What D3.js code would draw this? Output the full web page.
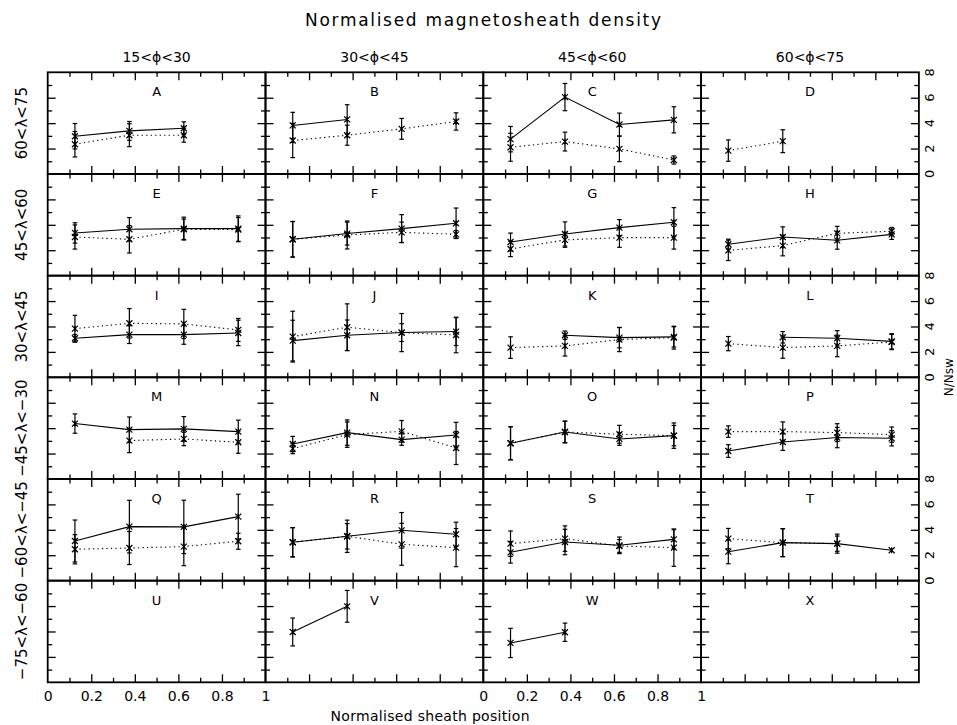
<!DOCTYPE html>
<html><head><meta charset="utf-8">
<script src="https://cdn.jsdelivr.net/npm/d3@7"></script>
<style>body{margin:0;background:#fff}svg text{font-family:"DejaVu Sans",sans-serif;fill:#000}</style>
</head><body><svg id="chart" width="957" height="725"></svg>
<script>
const panelLetters = ["A","B","C","D","E","F","G","H","I","J","K","L","M","N","O","P","Q","R","S","T","U","V","W","X"];
const rowLabels = ["60<λ<75","45<λ<60","30<λ<45","−45<λ<−30","−60<λ<−45","−75<λ<−60"];
const colLabels = ["15<ϕ<30","30<ϕ<45","45<ϕ<60","60<ϕ<75"];
const xPositions = [0.125,0.375,0.625,0.875];
const xTickLabels = [0,0.2,0.4,0.6,0.8,1];
const yTickLabels = [0,2,4,6,8];
const xMinorTicks = [0.1,0.3,0.5,0.7,0.9];
const xMajorTicks = [0.2,0.4,0.6,0.8];
const yMinorTicks = [1,3,5,7];
const yMajorTicks = [2,4,6];
const N = null;
const solidValues = [
 [2.97,3.39,3.6,N],[3.82,4.29,N,N],[2.74,6.05,3.89,4.26],[N,N,N,N],
 [3.36,3.65,3.7,3.7],[2.86,3.31,3.7,4.12],[2.65,3.28,3.78,4.2],[2.47,3.04,2.78,3.25],
 [3.07,3.36,3.36,3.49],[2.89,3.31,3.52,3.6],[N,3.31,3.12,3.18],[N,3.15,3.07,2.83],
 [4.36,3.88,3.94,3.73],[2.75,3.65,3.1,3.46],[2.81,3.7,3.15,3.41],[2.2,2.91,3.26,3.2],
 [3.12,4.25,4.23,5.04],[3.02,3.49,3.96,3.65],[2.23,3.04,2.78,3.25],[2.28,2.99,2.91,2.39],
 [N,N,N,N],[3.96,5.98,N,N],[3.1,3.94,N,N],[N,N,N,N]
];
const solidErrors = [
 [1.0,0.74,0.5,N],[1.03,1.16,N,N],[1.0,1.07,0.9,1.03],[N,N,N,N],
 [0.8,0.92,0.9,1.0],[1.4,0.9,1.1,1.2],[0.7,0.95,0.63,1.15],[0.4,0.8,0.7,0.4],
 [0.3,0.7,0.76,1.0],[1.6,1.2,0.7,1.1],[N,0.33,0.8,0.8],[N,0.45,0.6,0.6],
 [0.76,1.0,0.97,0.9],[0.6,1.0,0.45,1.0],[1.3,0.85,0.5,1.0],[0.5,0.66,0.8,0.6],
 [1.65,2.07,2.1,1.76],[1.15,1.27,1.4,0.95],[0.85,1.0,0.65,0.76],[0.95,1.1,0.75,0.05],
 [N,N,N,N],[1.1,1.25,N,N],[1.15,0.72,N,N],[N,N,N,N]
];
const dottedValues = [
 [2.34,3.05,3.05,N],[2.63,3.05,3.55,4.13],[2.1,2.55,1.97,1.1],[1.84,2.58,N,N],
 [3.04,2.86,3.65,3.62],[2.86,3.2,3.41,3.25],[2.1,2.81,2.99,2.99],[1.99,2.36,3.33,3.49],
 [3.83,4.25,4.2,3.73],[3.2,3.94,3.52,3.33],[2.34,2.47,2.97,3.12],[2.65,2.34,2.47,2.78],
 [N,3.02,3.15,2.89],[2.39,3.49,3.75,2.44],[2.81,3.7,3.52,3.41],[3.73,3.73,3.65,3.49],
 [2.47,2.57,2.68,3.1],[3.02,3.49,2.86,2.6],[2.91,3.31,2.73,2.6],[3.31,2.99,2.91,N],
 [N,N,N,N],[N,N,N,N],[N,N,N,N],[N,N,N,N]
];
const dottedErrors = [
 [1.0,0.9,0.55,N],[1.34,0.79,0.82,0.68],[1.1,0.74,1.0,0.32],[0.84,0.9,N,N],
 [0.95,1.08,0.8,0.95],[1.4,1.1,0.8,0.3],[0.6,0.58,0.76,0.9],[0.8,0.8,0.55,0.3],
 [1.05,1.16,1.15,0.9],[2.0,1.84,1.5,1.4],[0.85,0.8,0.95,0.9],[0.56,0.84,0.85,0.6],
 [N,0.95,0.53,0.87],[0.4,1.0,0.85,1.3],[1.3,0.85,0.7,0.8],[0.45,0.76,0.7,0.6],
 [1.15,1.3,1.5,0.63],[1.15,1.0,1.65,1.5],[1.0,1.0,0.5,1.47],[0.8,1.1,0.6,N],
 [N,N,N,N],[N,N,N,N],[N,N,N,N],[N,N,N,N]
];

const svg = d3.select("#chart");
const L = 47.7, T = 72.3, PW = 217.8, PH = 101.67;
const x = d3.scaleLinear().domain([0,1]).range([0,PW]);
const y = d3.scaleLinear().domain([0,8]).range([PH,0]);
const MAJ = 8, MIN = 4.5;

function tickAxis(g, axisFn, scale, vals, len, tx, ty){
  const a = axisFn(scale).tickValues(vals).tickSize(-len).tickFormat("");
  const ag = g.append("g").attr("transform",`translate(${tx},${ty})`).call(a);
  ag.select(".domain").remove();
  ag.selectAll("line").attr("stroke","#000").attr("stroke-width",1.3);
}

const star = s => `M${-s},${-s}L${s},${s}M${-s},${s}L${s},${-s}M0,${-s}L0,${s}`;

function drawSeries(g, vals, errs, dashed){
  const pts = xPositions.map((xv,i)=>({x:xv,v:vals[i],e:errs[i]})).filter(d=>d.v!==null);
  const line = d3.line().x(d=>x(d.x)).y(d=>y(d.v));
  g.append("path").datum(pts).attr("d",line).attr("fill","none")
    .attr("stroke","#000").attr("stroke-width",1.1)
    .attr("stroke-dasharray",dashed?"1.3,3.2":null);
  const eb = g.append("g").attr("stroke","#000").attr("stroke-width",1.2).attr("fill","none");
  pts.forEach(d=>{
    const cx = x(d.x);
    if(d.e && d.e>0.08){
      eb.append("line").attr("x1",cx).attr("x2",cx).attr("y1",y(d.v-d.e)).attr("y2",y(d.v+d.e));
      [d.v-d.e,d.v+d.e].forEach(v=>eb.append("line").attr("x1",cx-2.3).attr("x2",cx+2.3).attr("y1",y(v)).attr("y2",y(v)));
    }
    eb.append("path").attr("d",star(3)).attr("transform",`translate(${cx},${y(d.v)})`);
  });
}

for(let r=0;r<6;r++){
  for(let c=0;c<4;c++){
    const idx = r*4+c;
    const px = L + c*PW, py = T + r*PH;
    const g = svg.append("g").attr("transform",`translate(${px},${py})`);
    tickAxis(g, d3.axisBottom, x, xMinorTicks, MIN, 0, PH);
    tickAxis(g, d3.axisBottom, x, xMajorTicks, MAJ, 0, PH);
    tickAxis(g, d3.axisTop, x, xMinorTicks, MIN, 0, 0);
    tickAxis(g, d3.axisTop, x, xMajorTicks, MAJ, 0, 0);
    tickAxis(g, d3.axisLeft, y, yMinorTicks, MIN, 0, 0);
    tickAxis(g, d3.axisLeft, y, yMajorTicks, MAJ, 0, 0);
    tickAxis(g, d3.axisRight, y, yMinorTicks, MIN, PW, 0);
    tickAxis(g, d3.axisRight, y, yMajorTicks, MAJ, PW, 0);
    g.append("rect").attr("width",PW).attr("height",PH).attr("fill","none")
      .attr("stroke","#000").attr("stroke-width",1.8);
    g.append("text").attr("x",x(0.5)).attr("y",24).attr("text-anchor","middle")
      .attr("font-size",13).text(panelLetters[idx]);
    drawSeries(g, dottedValues[idx], dottedErrors[idx], true);
    drawSeries(g, solidValues[idx], solidErrors[idx], false);
    if(r===5 && (c===0 || c===2)){
      const a = d3.axisBottom(x).tickValues(xTickLabels).tickSize(0).tickPadding(9).tickFormat(d=>String(d));
      const ag = g.append("g").attr("transform",`translate(0,${PH})`).call(a);
      ag.select(".domain").remove();
      ag.selectAll("text").attr("font-size",14).attr("font-family","DejaVu Sans").attr("fill","#000");
    }
    if(c===3 && r%2===0){
      yTickLabels.forEach(v=>{
        g.append("text").attr("transform",`translate(${PW+15},${y(v)}) rotate(-90)`)
          .attr("text-anchor","middle").attr("font-size",13).text(v);
      });
    }
  }
}
colLabels.forEach((t,c)=>{
  svg.append("text").attr("x",L+c*PW+PW/2).attr("y",62).attr("text-anchor","middle")
    .attr("font-size",14).text(t);
});
rowLabels.forEach((t,r)=>{
  svg.append("text").attr("transform",`translate(27,${T+r*PH+PH/2}) rotate(-90)`)
    .attr("text-anchor","middle").attr("font-size",15).text(t);
});
svg.append("text").attr("x",483).attr("y",26).attr("text-anchor","middle")
  .attr("font-size",17).attr("textLength",356).attr("lengthAdjust","spacing")
  .text("Normalised magnetosheath density");
svg.append("text").attr("x",430).attr("y",721).attr("text-anchor","middle")
  .attr("font-size",14).attr("textLength",199).attr("lengthAdjust","spacing")
  .text("Normalised sheath position");
svg.append("text").attr("transform",`translate(953,${T+3*PH}) rotate(-90)`)
  .attr("text-anchor","middle").attr("font-size",12).text("N/Nsw");
</script></body></html>
